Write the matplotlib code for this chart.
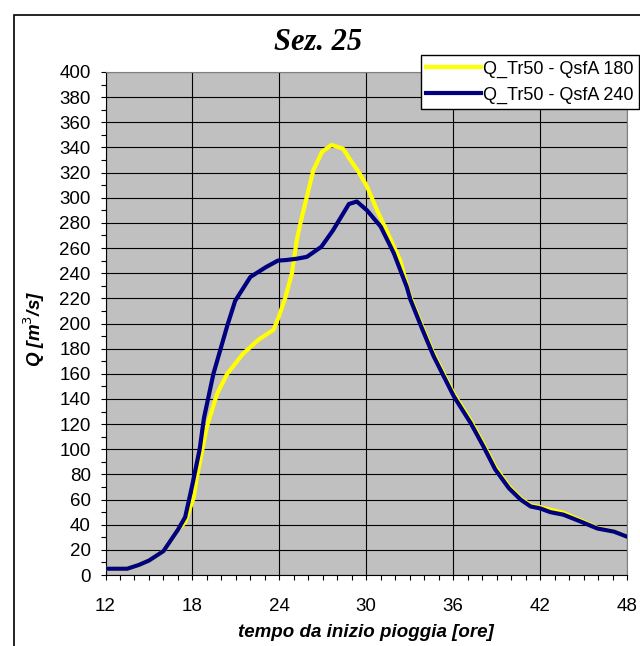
import matplotlib
matplotlib.use("Agg")
import matplotlib.pyplot as plt
from matplotlib.patches import Rectangle
from matplotlib.ticker import MultipleLocator

# ── dati ──────────────────────────────────────────────────────────────────────
t_240 = [12, 13, 13.5, 14.3, 15, 16, 17, 17.5, 18, 18.5, 18.8, 19.45, 20.4,
         20.95, 22, 23.1, 23.9, 24.5, 25.2, 25.9, 26.9, 27.7, 28.8, 29.35,
         30.05, 31, 31.9, 32.8, 33.05, 33.85, 34.65, 36.05, 37.2, 38.1, 38.9,
         39.85, 40.65, 41.35, 42, 42.7, 43.6, 44.8, 45.95, 47.1, 48]
q_240 = [5, 5, 5, 8, 11.5, 19, 36, 46, 72, 100, 125, 160, 198,
         218, 237, 245, 250, 250.5, 251.5, 253, 261, 274, 295, 297,
         290, 277, 256, 229, 219, 196, 174, 142, 121, 102, 84,
         69, 60, 54.5, 53, 50, 48, 42.5, 37, 34.5, 30.5]

t_180 = [12, 13, 13.5, 14.3, 15, 16, 17, 17.5, 18.1, 18.3, 19, 19.7, 20.4,
         21.5, 22.55, 23.6, 23.95, 24.4, 24.87, 25.2, 25.5, 26.35, 26.95,
         27.6, 28.4, 28.9, 29.45, 30.05, 30.75, 31.4, 32.35, 32.8, 33.05,
         33.85, 34.65, 36.05, 37.2, 38.1, 38.9, 39.85, 40.65, 41.35, 42,
         42.7, 43.6, 44.8, 45.95, 47.1, 48]
q_180 = [5, 5, 5, 8, 11.5, 19, 36, 42, 62, 77, 118, 144, 160,
         176, 187, 195, 205, 220, 240, 266, 282, 322, 336.5,
         342, 339, 330, 321, 309, 290, 274, 250, 231, 221,
         198, 176, 144, 123, 104, 86, 70.5, 61, 55.5, 54,
         52, 49.5, 43.5, 37.5, 34.7, 30.7]

x_ticks = [12, 18, 24, 30, 36, 42, 48]

# ── figura ────────────────────────────────────────────────────────────────────
plt.rcParams["font.family"] = ["Liberation Sans", "DejaVu Sans"]

W, H = 640, 646
fig = plt.figure(figsize=(W / 100, H / 100), dpi=100)
ax = fig.add_axes([105.5 / W, 1 - 575 / H, 521.5 / W, 503 / H])
ax.set_facecolor("#C0C0C0")

ax.plot(t_180, q_180, color="#FFFF00", lw=3.0, label="Q_Tr50 - QsfA 180",
        solid_joinstyle="round", zorder=3)
ax.plot(t_240, q_240, color="#000080", lw=3.0, label="Q_Tr50 - QsfA 240",
        solid_joinstyle="round", zorder=4)

ax.set_xlim(12, 48)
ax.set_ylim(0, 400)
ax.set_xticks(x_ticks)
ax.xaxis.set_minor_locator(MultipleLocator(1))
ax.yaxis.set_major_locator(MultipleLocator(20))
ax.yaxis.set_minor_locator(MultipleLocator(10))
ax.grid(True, which="major", color="black", lw=0.8)
ax.set_axisbelow(True)

ax.tick_params(axis="both", which="both", direction="out", length=3.6,
               width=0.8, labelsize=13.5)
ax.tick_params(axis="x", which="major", pad=13)
ax.tick_params(axis="y", which="major", pad=7)

for s in ("left", "bottom"):
    ax.spines[s].set_color("black")
for s in ("top", "right"):
    ax.spines[s].set_color("#808080")

ax.set_xlabel("tempo da inizio pioggia [ore]", fontsize=13.5,
              fontweight="bold", fontstyle="italic")
ax.xaxis.set_label_coords(0.5, -0.097)
ax.set_ylabel("Q [m$^3$/s]", fontsize=13.5, fontweight="bold", fontstyle="italic")
ax.yaxis.set_label_coords(-0.112, 0.49)

fig.text(318 / W, 1 - 43 / H, "Sez. 25", ha="center", va="center",
         fontsize=22, fontweight="bold", fontstyle="italic",
         family=["Liberation Serif", "DejaVu Serif"])

leg = fig.legend(loc="upper left", bbox_to_anchor=(421 / W, 1 - 55 / H),
                 fontsize=13, frameon=True, fancybox=False, edgecolor="black",
                 framealpha=1, handlelength=3.0, handletextpad=0.15,
                 borderpad=0.3, labelspacing=0.5, borderaxespad=0)
leg.get_frame().set_linewidth(1.0)

# cornice esterna (tagliata a destra e in basso)
fig.add_artist(Rectangle((14 / W, -0.1), 1.2, 1.1 - 15 / H, transform=fig.transFigure,
                         fill=False, edgecolor="black", lw=1.2))

fig.savefig("out.png", dpi=100)
